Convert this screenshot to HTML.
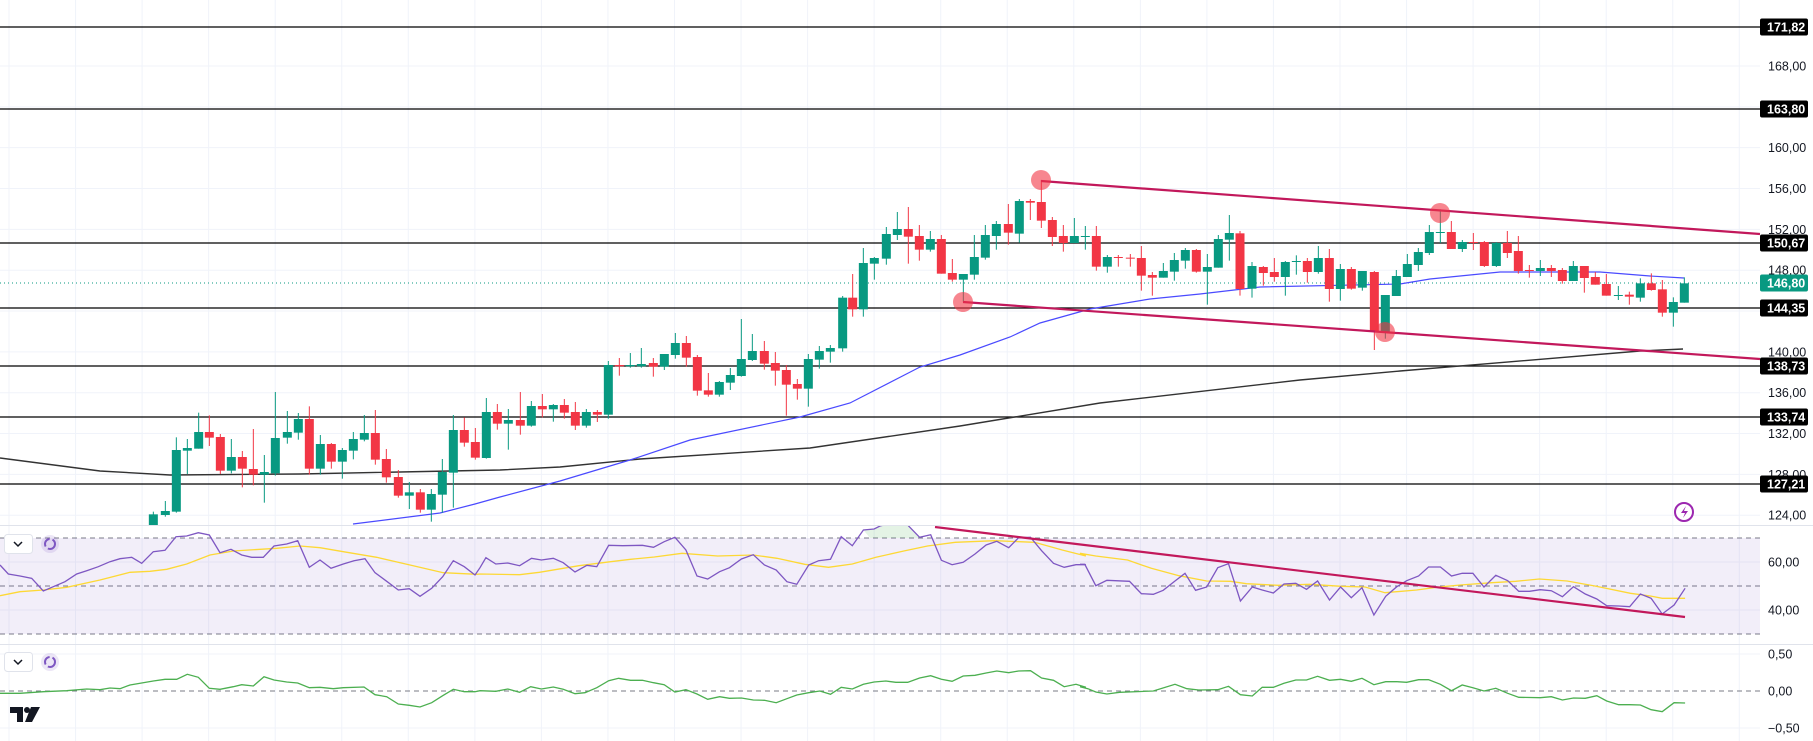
<!DOCTYPE html>
<html><head><meta charset="utf-8">
<style>
html,body{margin:0;padding:0;background:#fff;width:1813px;height:741px;overflow:hidden}
svg{display:block}
text{font-family:"Liberation Sans",sans-serif;font-size:12.5px}
</style></head>
<body>
<svg id="s" width="1813" height="741" viewBox="0 0 1813 741" xmlns="http://www.w3.org/2000/svg">
<defs>
<clipPath id="cm"><rect x="0" y="0" width="1760" height="525"/></clipPath>
<clipPath id="cr"><rect x="0" y="526" width="1760" height="118"/></clipPath>
<clipPath id="c3"><rect x="0" y="645" width="1760" height="96"/></clipPath>
</defs>
<g id="grid"></g>
<rect x="0" y="538" width="1760" height="96" fill="rgba(126,87,194,0.1)"/>
<g id="main" clip-path="url(#cm)"></g>
<g id="rsi" clip-path="url(#cr)"></g>
<g id="p3" clip-path="url(#c3)"></g>
<g id="axis"></g>
<text x="1768" y="0" style="display:none">x</text>
<!-- pane controls -->
<rect x="4.5" y="534.5" width="28" height="19" rx="3" fill="#fff" stroke="#e0e3eb"/>
<path d="M14 542 l4 4 l4 -4" fill="none" stroke="#131722" stroke-width="1.5"/>
<circle cx="50" cy="544" r="9" fill="rgba(126,87,194,0.15)"/>
<circle cx="50" cy="544" r="5" fill="none" stroke="#7e57c2" stroke-width="2" stroke-dasharray="10 3"/>
<rect x="4.5" y="652.5" width="28" height="19" rx="3" fill="#fff" stroke="#e0e3eb"/>
<path d="M14 660 l4 4 l4 -4" fill="none" stroke="#131722" stroke-width="1.5"/>
<circle cx="50" cy="662" r="9" fill="rgba(126,87,194,0.15)"/>
<circle cx="50" cy="662" r="5" fill="none" stroke="#7e57c2" stroke-width="2" stroke-dasharray="10 3"/>
<!-- TV logo -->
<path d="M10 707 h13 v15 h-6 v-9 h-7z" fill="#131722"/>
<circle cx="27" cy="710" r="3" fill="#131722"/>
<path d="M31 707 h9 l-8 15 h-7z" fill="#131722"/>
<!-- lightning -->
<circle cx="1684" cy="512" r="9" fill="#fff" stroke="#9c27b0" stroke-width="2"/>
<path d="M1686 506 l-5 7 h4 l-2 5 l5 -7 h-4z" fill="#9c27b0"/>
</svg>
<script>
var NS="http://www.w3.org/2000/svg";
function el(p,t,a,txt){var e=document.createElementNS(NS,t);for(var k in a)e.setAttribute(k,a[k]);if(txt!==undefined)e.textContent=txt;document.getElementById(p).appendChild(e);return e;}
var G="#089981",R="#f23645";
// grid
for(var i=0;i<27;i++){var x=9+66.55*i;if(x>1760)break;el("grid","line",{x1:x,y1:0,x2:x,y2:741,stroke:"#f0f3fa","stroke-width":1});}
function py(p){return 27+(171.82-p)*10.21;}
[168,164,160,156,152,148,144,140,136,132,128,124].forEach(function(p){el("grid","line",{x1:0,y1:py(p),x2:1760,y2:py(p),stroke:"#f0f3fa"});});
[562,610,654,728].forEach(function(y){el("grid","line",{x1:0,y1:y,x2:1760,y2:y,stroke:"#f0f3fa"});});
el("grid","line",{x1:0,y1:525.5,x2:1813,y2:525.5,stroke:"#e0e3eb"});
el("grid","line",{x1:0,y1:644.5,x2:1813,y2:644.5,stroke:"#e0e3eb"});
// dashed levels
[538,586,634].forEach(function(y){el("grid","line",{x1:0,y1:y,x2:1760,y2:y,stroke:"#787b86","stroke-dasharray":"5 4"});});
el("grid","line",{x1:0,y1:691,x2:1760,y2:691,stroke:"#787b86","stroke-dasharray":"5 4"});
// horizontal levels
var lv=[[171.82,27],[163.80,109],[150.67,243],[144.35,308],[138.73,366],[133.74,417],[127.21,484]];
lv.forEach(function(l){el("main","line",{x1:0,y1:l[1],x2:1760,y2:l[1],stroke:"#000","stroke-width":1.3});});
el("main","line",{x1:0,y1:283,x2:1760,y2:283,stroke:G,"stroke-dasharray":"1 3"});
function pl(pts){return pts.map(function(p){return p[0].toFixed(1)+","+p[1].toFixed(1)}).join(" ");}
// MA200
el("main","polyline",{points:pl([[0,458],[100,471],[170,475],[300,474],[500,470],[560,467],[640,459],[810,448],[960,426],[1100,403],[1300,380],[1400,371],[1640,351],[1683,349]]),fill:"none",stroke:"#333",  "stroke-width":1.4});
// MA50
el("main","polyline",{points:pl([[353,524],[440,513],[475,504],[500,497],[560,481],[630,460],[690,440],[800,417],[850,403],[920,367],[960,355],[1010,337],[1040,323],[1090,309],[1150,299],[1200,294],[1260,287],[1400,284],[1430,279],[1500,272],[1600,272],[1650,276],[1684,278]]),fill:"none",stroke:"#4a4aff","stroke-width":1.2});
// candles
var Z=[
[140,330,[[40,'g',553,585,545,590],[76,'g',543,555,513,560],[109,'g',360,545,322,548],[142,'g',354,362,327,432],[176,'g',306,356,248,356],[208,'r',306,323,256,348],[241,'r',321,422,312,432],[274,'g',381,422,327,430],[307,'r',381,416,363,472],[340,'r',417,434,297,466],[373,'g',426,434,375,518],[406,'g',324,430,186,437],[442,'g',306,323,243,341],[475,'g',267,308,249,329],[508,'r',267,416,229,434],[541,'g',342,416,315,434],[574,'r',342,395,339,416],[607,'g',360,395,354,446],[640,'g',327,362,306,388],[673,'g',309,329,255,334],[706,'r',309,389,240,404],[739,'r',387,442,357,458],[775,'r',441,497,420,503],[808,'g',487,497,456,537],[841,'r',487,539,477,548],[874,'g',492,539,477,575],[907,'g',426,494,387,548],[940,'g',300,428,255,533],[973,'r',300,338,262,350],[1006,'r',336,383,294,389],[1039,'g',246,384,204,386],[1072,'r',246,281,222,299],[1105,'g',270,281,237,359],[1141,'r',270,287,186,314],[1174,'g',228,287,213,290],[1207,'r',228,238,192,262],[1240,'g',225,238,222,275]]],
[540,260,[[73,'r',435,458,417,476],[106,'r',456,497,426,510],[139,'g',456,497,447,503],[172,'r',456,464,450,486],[205,'g',315,464,303,476],[238,'r',315,319,294,347],[271,'g',315,319,279,323],[304,'g',312,319,264,323],[340,'r',309,320,294,350],[373,'g',282,320,282,330],[406,'g',249,285,219,296],[439,'r',249,293,228,320],[472,'r',291,392,285,407],[505,'r',391,404,339,410],[538,'g',366,404,363,410],[571,'g',345,368,324,390],[604,'g',297,348,177,350],[637,'g',273,300,222,303],[673,'r',273,311,243,329],[706,'r',309,332,276,377],[739,'r',330,374,315,467],[772,'r',372,386,357,419],[805,'g',297,386,282,440],[838,'g',273,299,258,326],[871,'g',264,275,255,308]]],
[840,160,[[8,'g',413,565,408,575],[38,'r',413,448,342,470],[70,'g',309,448,264,470],[103,'g',294,311,291,359],[139,'g',222,296,201,314],[172,'g',207,225,156,240],[205,'r',207,230,141,311],[238,'r',228,269,195,302],[271,'g',237,269,213,275],[304,'r',237,341,225,341],[337,'r',339,359,297,365],[370,'g',342,359,342,425],[403,'g',291,344,225,359],[436,'g',225,293,195,299],[469,'g',192,228,183,269],[505,'r',192,218,132,254],[538,'g',123,221,117,248],[571,'r',123,128,117,180],[604,'r',126,182,60,204],[637,'r',180,231,171,258],[670,'r',228,249,195,275],[703,'g',228,249,174,249],[736,'g',228,231,198,269],[769,'r',228,320,198,332],[802,'g',291,320,285,338],[835,'r',291,293,285,320],[871,'r',293,296,282,320],[904,'r',294,347,258,392],[937,'r',345,353,336,407],[970,'g',333,353,309,353],[1003,'g',300,335,279,362],[1036,'g',270,302,264,326],[1069,'r',270,335,267,338],[1102,'g',321,335,282,434],[1135,'g',237,323,225,323],[1168,'g',219,239,165,302]]],
[1230,180,[[30,'r',160,327,153,347],[66,'g',258,326,246,353],[100,'r',261,279,258,317],[133,'r',276,291,234,305],[166,'g',246,291,243,347],[199,'g',243,246,226,284],[232,'r',243,276,234,308],[265,'g',234,276,198,281],[298,'r',234,327,207,365],[331,'g',267,327,252,362],[364,'r',267,326,261,329],[397,'g',273,323,273,332],[433,'r',276,455,273,510],[466,'g',345,455,345,476],[499,'g',288,348,270,348],[532,'g',252,291,222,291],[565,'g',216,255,204,273],[598,'g',156,219,135,225],[631,'g',156,158,88,189],[664,'r',156,207,123,207],[697,'g',186,207,180,216],[730,'r',186,189,159,210],[763,'r',186,258,183,261],[799,'g',189,258,186,261],[832,'r',189,219,153,234],[865,'r',213,273,168,281],[898,'r',270,272,255,293],[931,'g',264,273,240,288],[964,'r',264,273,255,291],[997,'r',270,303,264,311],[1030,'g',258,303,243,303],[1063,'r',258,294,258,338],[1096,'r',291,314,276,314],[1129,'r',312,347,282,347],[1165,'g',345,347,318,360]]],
[1620,260,[[28,'r',104,110,95,134],[61,'g',70,113,55,125],[94,'r',70,90,40,92],[127,'r',88,158,60,170],[160,'g',126,158,112,200],[193,'g',70,128,52,128]]]
];
Z.forEach(function(z){z[2].forEach(function(c){
 var x=z[0]+c[0]/3, bt=z[1]+c[2]/3, bb=z[1]+c[3]/3, wt=z[1]+c[4]/3, wb=z[1]+c[5]/3, col=c[1]=='g'?G:R;
 el("main","line",{x1:x,y1:wt,x2:x,y2:wb,stroke:col,"stroke-width":1});
 el("main","rect",{x:x-4.5,y:bt,width:9,height:Math.max(1,bb-bt),fill:col});
});});
// channel
var MG="#c2185b";
el("main","line",{x1:1041,y1:181,x2:1760,y2:234,stroke:MG,"stroke-width":2.2});
el("main","line",{x1:963,y1:302,x2:1760,y2:359,stroke:MG,"stroke-width":2.2});
[[1041,180],[963,302],[1440,213],[1385,332]].forEach(function(c){el("main","circle",{cx:c[0],cy:c[1],r:10,fill:"rgba(242,54,69,0.6)"});});
// RSI
function conv(x0,sx,pts,y0,sy){return pts.map(function(p){return [x0+p[0]/sx,y0+p[1]/sy];});}
var r2=conv(0,3,[[0,375],[25,402],[60,408],[95,415],[130,453],[160,440],[195,425],[230,402],[260,392],[295,380],[330,365],[360,356],[395,352],[425,370],[460,335],[495,331],[528,290],[560,288],[595,278],[628,285],[660,338],[693,328],[725,345],[755,352],[790,352],[822,318],[860,312],[893,302],[928,382],[960,360],[993,385],[1030,372],[1062,362],[1095,356],[1125,398],[1160,424],[1195,450],[1228,446],[1260,469],[1295,445],[1328,410],[1360,362],[1393,380],[1425,405]],440,3);
var r9=conv(480,2.525,[[0,128],[15,98],[40,117],[70,114],[100,122],[130,100],[155,105],[185,100],[210,113],[240,141],[270,121],[295,125],[325,61],[360,62],[410,61],[438,67],[465,50],[492,37],[520,75],[548,153],[575,162],[605,140],[630,128],[660,102],[690,89],[718,120],[748,135],[775,170],[800,178],[830,120],[855,107],[885,103],[912,35],[940,62],[968,15],[995,12],[1010,3],[1040,-6],[1075,-6],[1110,37],[1138,29],[1165,106],[1192,119],[1220,112],[1250,87],[1278,60],[1305,49],[1335,68],[1360,38],[1390,37],[1418,77],[1448,115],[1475,127],[1505,119],[1530,119]],525,3);
var r10=conv(1080,2.525,[[0,118],[12,118],[40,182],[68,166],[125,169],[155,206],[185,208],[210,196],[240,168],[265,145],[292,196],[320,186],[348,128],[375,116],[405,228],[435,186],[460,195],[488,204],[515,177],[545,175],[572,193],[600,168],[630,225],[658,186],[685,218],[712,188],[742,270],[772,214],[800,185],[825,167],[855,153],[880,126],[910,126],[938,153],[965,145],[992,145],[1020,186],[1050,151],[1080,167],[1108,199],[1135,199],[1162,194],[1190,197],[1218,215],[1246,185],[1276,207],[1305,222],[1330,242],[1360,243],[1388,245],[1415,207],[1442,220],[1470,267],[1500,240],[1528,190]],525,3);
var rsi=r2.concat(r9,r10);
var y2=conv(0,3,[[0,467],[60,455],[130,450],[200,442],[300,420],[390,397],[450,394],[500,388],[560,372],[630,345],[700,333],[830,325],[900,318],[960,323],[1030,335],[1130,352],[1230,375],[1330,398],[1430,403]],440,3);
var y9=conv(480,2.525,[[0,147],[100,149],[150,142],[250,122],[330,110],[380,103],[440,96],[510,85],[600,93],[690,90],[750,100],[820,118],[880,127],[940,117],[1000,97],[1070,78],[1130,63],[1200,52],[1300,47],[1400,52],[1470,75],[1530,93]],525,3);
var y10=conv(1080,2.525,[[0,85],[40,93],[120,105],[180,130],[250,152],[320,168],[380,169],[420,176],[500,181],[580,178],[660,184],[720,186],[770,203],[850,195],[900,187],[960,180],[1040,173],[1100,169],[1160,162],[1230,168],[1300,183],[1390,205],[1440,213],[1470,220],[1528,220]],525,3);
el("rsi","polygon",{points:"870,538 "+pl(conv(480,2.525,[[968,15],[995,12],[1010,3],[1040,-6],[1075,-6],[1110,37]],525,3))+" 920,538",fill:"rgba(76,175,80,0.15)"});
el("rsi","polyline",{points:pl(y2.concat(y9,y10)),fill:"none",stroke:"#fdd835","stroke-width":1.3});
el("rsi","polyline",{points:pl(rsi),fill:"none",stroke:"#7e57c2","stroke-width":1.3});
el("rsi","line",{x1:935,y1:527,x2:1685,y2:617,stroke:MG,"stroke-width":2.2});
// pane 3
var g2=conv(0,3,[[0,760],[60,760],[130,755],[200,752],[260,747],[300,749],[330,744],[360,746],[390,735],[460,723],[495,718],[530,718],[562,703],[595,712],[628,745],[660,748],[700,740],[725,734],[760,738],[792,710],[822,720],[860,726],[893,729],[928,743],[960,742],[1000,746],[1030,743],[1092,741],[1125,764],[1160,770],[1195,792],[1228,796],[1260,801],[1295,788],[1328,767],[1360,748],[1393,755],[1425,755]],440,3);
var g9=conv(480,2.525,[[0,497],[40,499],[70,492],[100,502],[128,485],[155,492],[185,486],[210,493],[240,506],[265,503],[295,488],[325,467],[350,460],[380,466],[410,466],[438,473],[465,479],[492,501],[520,494],[548,507],[575,523],[605,515],[630,520],[660,519],[690,525],[718,526],[748,533],[775,521],[800,510],[830,503],[858,498],[885,508],[912,487],[940,492],[968,478],[995,471],[1025,468],[1050,472],[1080,472],[1110,459],[1138,452],[1165,463],[1192,469],[1220,453],[1250,451],[1278,444],[1305,438],[1335,443],[1360,438],[1390,437],[1418,459],[1448,466],[1475,485],[1505,478],[1530,487]],525,3);
var g10=conv(1080,2.525,[[0,485],[20,491],[40,501],[68,507],[100,502],[185,498],[240,478],[270,491],[300,495],[348,494],[375,484],[405,509],[435,513],[460,487],[488,487],[515,475],[545,465],[572,465],[600,454],[630,466],[658,463],[685,469],[712,460],[742,479],[772,470],[800,470],[825,472],[855,464],[880,464],[910,478],[938,497],[965,480],[992,488],[1020,498],[1050,490],[1080,505],[1108,517],[1162,518],[1190,515],[1218,525],[1246,519],[1276,520],[1305,512],[1330,528],[1360,539],[1388,539],[1415,540],[1442,554],[1470,560],[1500,533],[1528,534]],525,3);
el("p3","polyline",{points:pl(g2.concat(g9,g10)),fill:"none",stroke:"#4caf50","stroke-width":1.3});
// axis labels
function lab(y,t){el("axis","text",{x:1768,y:y+4.5,fill:"#131722"},t);}
[[168,"168,00"],[160,"160,00"],[156,"156,00"],[152,"152,00"],[148,"148,00"],[140,"140,00"],[136,"136,00"],[132,"132,00"],[128,"128,00"],[124,"124,00"]].forEach(function(a){lab(py(a[0]),a[1]);});
lab(562,"60,00");lab(610,"40,00");lab(654,"0,50");lab(691,"0,00");lab(728,"−0,50");
function box(y,t,bg){el("axis","rect",{x:1760,y:y-8.5,width:48,height:17,rx:2,fill:bg});el("axis","text",{x:1767,y:y+4.5,fill:"#fff","font-weight":"bold"},t);}
lv.forEach(function(l){box(l[1],l[0].toFixed(2).replace(".",","),"#000");});
box(283,"146,80",G);
</script>
</body></html>
